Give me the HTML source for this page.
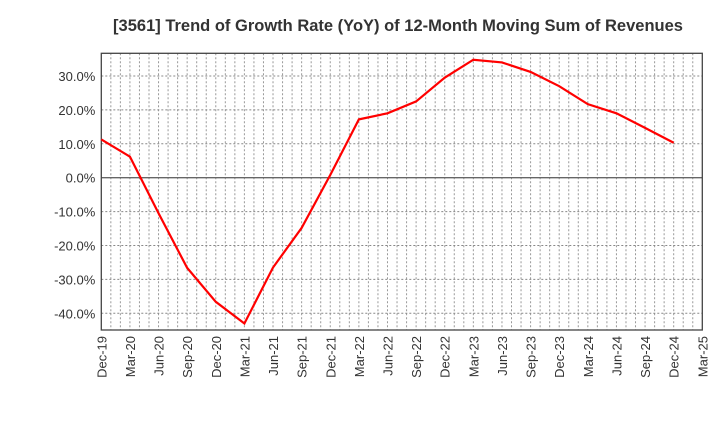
<!DOCTYPE html>
<html><head><meta charset="utf-8"><style>
body{margin:0;background:#fff;font-family:"Liberation Sans",sans-serif}
</style></head><body>
<svg width="720" height="440" xmlns="http://www.w3.org/2000/svg" id="chart">
<text x="398" y="31" text-anchor="middle" font-size="16.5" font-weight="bold" fill="#333">[3561]  Trend of Growth Rate (YoY) of 12-Month Moving Sum of Revenues</text>
<g id="grid"></g><g id="axes"></g>
<rect x="101.3" y="53.3" width="601" height="276.7" fill="none" stroke="#444" stroke-width="1.3"/>
<polyline id="line" fill="none" stroke="#f00" stroke-width="2.2"/>
</svg>
<script>
const categories=["Dec-19","Mar-20","Jun-20","Sep-20","Dec-20","Mar-21","Jun-21","Sep-21","Dec-21","Mar-22","Jun-22","Sep-22","Dec-22","Mar-23","Jun-23","Sep-23","Dec-23","Mar-24","Jun-24","Sep-24","Dec-24","Mar-25"];
const values=[11.3,6.2,-10.5,-26.6,-36.6,-43,-26.5,-14.8,0.8,17.2,19,22.5,29.5,34.8,34,31.2,27,21.7,19,14.7,10.3];
const yTicks=[-40,-30,-20,-10,0,10,20,30];
const L=101.3,R=702.3,T=53.3,B=330;
const x=i=>L+i*(R-L)/21;
const y=v=>177.7-v*3.39;
const ns="http://www.w3.org/2000/svg";
const g=document.getElementById('grid'),a=document.getElementById('axes');
function mk(t,at,p){const e=document.createElementNS(ns,t);for(const k in at)e.setAttribute(k,at[k]);p.appendChild(e);return e;}
for(let m=1;m<63;m++){const xx=L+m*(R-L)/63;
const ln=mk('line',{x1:xx,x2:xx,y1:T,y2:B,stroke:'#999','stroke-width':1,'stroke-dasharray':'2,2'},g);

}
yTicks.forEach(v=>{const ln=mk('line',{x1:L,x2:R,y1:y(v),y2:y(v),stroke:v===0?'#666':'#888','stroke-width':v===0?1.3:1,'stroke-dasharray':v===0?'':'2,2'},g);


const t=mk('text',{x:L-6,y:y(v)+5,'text-anchor':'end','font-size':13,fill:'#333'},a);t.textContent=v.toFixed(1)+'%';

});
categories.forEach((c,i)=>{const t=mk('text',{transform:`translate(${x(i)+5},${B+6}) rotate(-90)`,'text-anchor':'end','font-size':13,fill:'#333'},a);t.textContent=c;

});
document.getElementById('line').setAttribute('points',values.map((v,i)=>x(i)+','+y(v)).join(' '));
</script>
</body></html>
